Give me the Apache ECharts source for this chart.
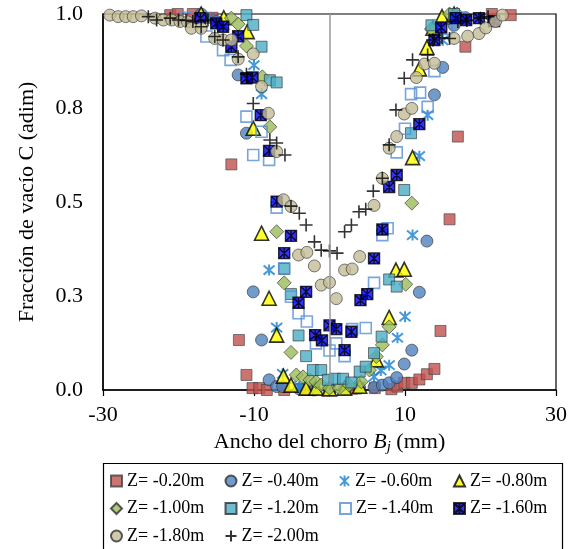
<!DOCTYPE html>
<html><head><meta charset="utf-8">
<script src="https://cdn.jsdelivr.net/npm/echarts@6/dist/echarts.min.js"></script>
<style>html,body{margin:0;padding:0;background:#fff}#c{width:570px;height:549px}</style>
</head><body><div id="c"></div>
<script>
const seriesNames = ['Z= -0.20m','Z= -0.40m','Z= -0.60m','Z= -0.80m','Z= -1.00m','Z= -1.20m','Z= -1.40m','Z= -1.60m','Z= -1.80m','Z= -2.00m'];
const yTickLabels = ['0.0','0.3','0.5','0.8','1.0'];

const z020 = [[-21.1,0.997],[-20.1,1.0],[-18.1,1.0],[-15.5,0.99],[-13.0,0.60],[-12.0,0.133],[-11.0,0.04],[-10.2,0.005],[-9.3,0.005],[-8.3,0.0],[-6.0,0.0],[-3.0,0.0],[0.0,0.0],[3.0,0.003],[6.0,0.005],[8.2,0.002],[9.0,0.009],[9.9,0.019],[10.9,0.019],[11.9,0.028],[12.9,0.042],[13.9,0.056],[14.7,0.157],[15.9,0.454],[17.0,0.674],[18.0,0.913],[21.5,1.0],[24.0,0.997]];
const z040 = [[-17.0,1.0],[-15.0,0.98],[-12.1,0.838],[-11.0,0.683],[-10.1,0.261],[-9.0,0.133],[-8.0,0.027],[-7.0,0.009],[-6.2,0.009],[-4.0,0.003],[-2.0,0.0],[0.0,0.0],[2.0,0.003],[4.0,0.005],[5.9,0.007],[7.0,0.013],[7.9,0.019],[8.9,0.033],[9.9,0.069],[10.9,0.106],[11.9,0.26],[12.9,0.396],[13.9,0.785],[15.0,0.858],[16.5,0.97],[18.0,0.99]];
const z060 = [[-16.0,0.99],[-14.0,0.97],[-10.0,0.864],[-9.0,0.787],[-8.0,0.319],[-7.0,0.166],[-6.2,0.043],[-4.0,0.01],[-2.0,0.005],[0.0,0.003],[2.0,0.005],[4.0,0.01],[5.9,0.035],[6.8,0.052],[7.9,0.066],[9.0,0.139],[10.0,0.195],[11.0,0.412],[11.9,0.622],[13.0,0.731],[15.0,0.93],[17.0,0.99]];
const z080 = [[-17.0,1.0],[-14.0,0.99],[-10.9,0.953],[-10.1,0.696],[-9.0,0.417],[-8.0,0.244],[-7.0,0.146],[-6.1,0.037],[-5.1,0.013],[-3.1,0.005],[-1.8,0.005],[0.0,0.003],[2.0,0.005],[4.0,0.01],[6.2,0.08],[7.9,0.193],[8.8,0.319],[9.9,0.321],[11.0,0.618],[11.9,0.854],[12.9,0.911],[13.7,0.962],[14.9,0.993],[16.5,1.0]];
const z100 = [[-13.0,0.989],[-12.1,0.973],[-11.0,0.915],[-8.9,0.833],[-7.9,0.70],[-7.0,0.421],[-6.0,0.285],[-5.1,0.10],[-4.4,0.04],[-3.5,0.035],[-2.6,0.027],[-1.8,0.022],[-1.1,0.013],[0.0,0.005],[1.3,0.005],[2.6,0.013],[4.2,0.022],[5.3,0.053],[6.2,0.089],[7.0,0.12],[7.9,0.168],[10.1,0.281],[10.9,0.497],[13.5,0.96],[15.9,1.0],[16.9,1.0]];
const z120 = [[-11.0,0.997],[-10.1,0.971],[-9.0,0.913],[-7.9,0.824],[-7.0,0.818],[-6.0,0.322],[-5.1,0.255],[-4.1,0.145],[-3.1,0.09],[-2.2,0.053],[-1.1,0.053],[-0.2,0.027],[0.7,0.03],[1.8,0.03],[2.9,0.02],[4.0,0.049],[4.8,0.062],[5.9,0.098],[6.9,0.142],[7.9,0.294],[8.9,0.275],[9.9,0.532],[10.8,0.683],[13.5,0.97],[16.5,1.0]];
const z140 = [[-19.0,0.99],[-16.3,0.94],[-14.1,0.904],[-13.1,0.878],[-11.0,0.727],[-9.0,0.687],[-10.1,0.625],[-8.0,0.612],[-7.0,0.485],[-6.0,0.324],[-5.1,0.248],[-4.1,0.204],[-3.0,0.182],[-1.8,0.124],[0.0,0.105],[0.9,0.124],[2.0,0.09],[3.0,0.162],[4.8,0.165],[5.9,0.285],[7.0,0.412],[7.7,0.43],[8.9,0.632],[10.0,0.695],[10.8,0.787],[12.0,0.791],[13.0,0.753],[13.9,0.848],[15.5,0.96],[17.5,0.99]];
const z160 = [[-17.1,0.989],[-15.0,0.975],[-14.1,0.966],[-12.1,0.941],[-13.0,0.913],[-11.0,0.829],[-10.2,0.831],[-9.1,0.731],[-8.0,0.636],[-7.0,0.501],[-5.1,0.41],[-6.0,0.364],[-3.1,0.261],[-4.1,0.232],[-1.9,0.146],[-1.0,0.132],[0.0,0.172],[0.9,0.162],[2.9,0.155],[2.0,0.106],[4.1,0.239],[5.0,0.255],[5.9,0.35],[7.0,0.427],[7.9,0.54],[8.9,0.572],[11.9,0.707],[13.9,0.931],[14.8,0.964],[16.7,0.989],[18.1,0.984],[19.8,0.989],[21.8,0.981]];
const z180 = [[-29.1,0.997],[-28.0,0.993],[-27.0,0.993],[-26.0,0.993],[-24.9,0.995],[-23.1,0.989],[-22.0,0.984],[-20.9,0.984],[-19.8,0.98],[-18.8,0.979],[-18.3,0.962],[-17.0,0.962],[-15.2,0.935],[-14.1,0.931],[-13.0,0.931],[-12.1,0.88],[-10.1,0.894],[-9.0,0.807],[-8.1,0.736],[-7.0,0.634],[-6.1,0.506],[-5.1,0.488],[-4.1,0.359],[-3.0,0.366],[-2.0,0.33],[-1.1,0.279],[0.0,0.286],[0.9,0.243],[2.0,0.319],[3.0,0.322],[4.0,0.355],[5.9,0.491],[7.0,0.563],[7.9,0.643],[8.9,0.674],[9.9,0.734],[10.9,0.749],[11.5,0.831],[12.6,0.867],[13.9,0.869],[16.5,0.935],[18.3,0.941],[19.8,0.948],[20.7,0.963],[22.0,0.98],[22.9,0.997]];
const z200 = [[-24.0,0.993],[-22.9,0.984],[-21.1,0.989],[-20.0,0.984],[-19.0,0.983],[-18.1,0.98],[-17.0,0.966],[-16.1,0.984],[-15.2,0.94],[-14.1,0.931],[-12.1,0.886],[-11.0,0.84],[-10.1,0.762],[-7.9,0.665],[-7.0,0.657],[-5.9,0.625],[-5.1,0.489],[-4.0,0.47],[-3.1,0.439],[-2.0,0.394],[-1.1,0.372],[0.0,0.37],[1.0,0.364],[2.0,0.421],[2.9,0.439],[3.9,0.474],[4.8,0.481],[5.8,0.529],[7.0,0.563],[7.9,0.652],[8.8,0.745],[9.9,0.829],[11.0,0.878],[13.0,0.891],[13.7,0.931],[14.9,0.937],[15.9,0.935],[17.0,0.98],[18.2,0.983],[20.0,0.989],[21.0,0.993]];

const seriesData = [z020,z040,z060,z080,z100,z120,z140,z160,z180,z200];

const FONT = "'Liberation Serif','Times New Roman',serif";
const STAR = 'path://M0,0L10,10M10,0L0,10M5,-1L5,11';
const PLUS = 'path://M5,0L5,10M0,5L10,5';
const XSQ = 'path://M0,0L10,0L10,10L0,10Z M0,0L10,10 M10,0L0,10 M5,0L5,10';
const styles = [
  {symbol:'rect', size:11, itemStyle:{color:'#C0504D', borderColor:'#404040', borderWidth:0.8}},
  {symbol:'circle', size:12, itemStyle:{color:'#4F81BD', borderColor:'#303030', borderWidth:0.8}},
  {symbol:STAR, size:11, itemStyle:{color:'rgba(0,0,0,0)', borderColor:'#1780D0', borderWidth:2}},
  {symbol:'triangle', size:14, itemStyle:{color:'#FFFF00', borderColor:'#000', borderWidth:1.6}},
  {symbol:'diamond', size:14, itemStyle:{color:'#9BBB59', borderColor:'#303030', borderWidth:0.8}},
  {symbol:'rect', size:11, itemStyle:{color:'#4BACC6', borderColor:'#303030', borderWidth:0.8}},
  {symbol:'rect', size:11, itemStyle:{color:'rgba(255,255,255,0)', borderColor:'#558ED5', borderWidth:1.6}},
  {symbol:XSQ, size:11, itemStyle:{color:'#0000FF', borderColor:'#000', borderWidth:1.4}},
  {symbol:'circle', size:12, itemStyle:{color:'#C4BD97', borderColor:'#303030', borderWidth:0.8}},
  {symbol:PLUS, size:13, itemStyle:{color:'rgba(0,0,0,0)', borderColor:'#000', borderWidth:1.6}}
];

const series = seriesNames.map((n,i)=>{
  const s = {
    name:n, type:'scatter', data:seriesData[i], symbol:styles[i].symbol, symbolSize:styles[i].size,
    itemStyle:styles[i].itemStyle, emphasis:{disabled:true}, silent:true, animation:false
  };
  if (i===0) {
    s.markLine = {silent:true, symbol:['none','none'], label:{show:false},
      lineStyle:{color:'#999', width:1.5, type:'solid'}, data:[{xAxis:0}], animation:false};
  }
  return s;
});

const colX = [110, 224.5, 339, 453];
const rowY = [471, 498.5, 526];
const legends = seriesNames.map((n,i)=>({
  data:[n], left:colX[i%4], top:rowY[Math.floor(i/4)], padding:0,
  itemWidth:11, itemHeight:11, itemGap:0, selectedMode:false,
  textStyle:{fontFamily:FONT, fontSize:18, color:'#000', lineHeight:20}
}));

const chart = echarts.init(document.getElementById('c'), null, {renderer:'canvas'});
chart.setOption({
  animation:false,
  backgroundColor:'#fff',
  grid:{left:103, right:13, top:14, bottom:159, show:true, borderColor:'#000', borderWidth:1.2, containLabel:false},
  xAxis:{type:'value', min:-30, max:30, interval:20,
    axisLine:{show:true, onZero:false, lineStyle:{color:'#000', width:1.5}},
    axisTick:{show:true, inside:false, length:6, lineStyle:{color:'#000', width:1.2}},
    splitLine:{show:false},
    axisLabel:{fontFamily:FONT, fontSize:22, color:'#000', margin:14},
    name:'Ancho del chorro {i|B}{s|j} (mm)', nameLocation:'middle', nameGap:40,
    nameTextStyle:{fontFamily:FONT, fontSize:22, color:'#000',
      rich:{i:{fontFamily:FONT, fontSize:22, fontStyle:'italic', color:'#000'},
            s:{fontFamily:FONT, fontSize:15, fontStyle:'italic', color:'#000', padding:[10,0,0,0]}}}
  },
  yAxis:{type:'value', min:0, max:1, interval:0.25,
    axisLine:{show:true, onZero:false, lineStyle:{color:'#000', width:1.5}},
    axisTick:{show:false},
    splitLine:{show:false},
    axisLabel:{fontFamily:FONT, fontSize:22, color:'#000', margin:20,
      formatter:(v)=>yTickLabels[Math.round(v/0.25)]},
    name:'Fracción de vacío C (adim)', nameLocation:'middle', nameRotate:90, nameGap:65,
    nameTextStyle:{fontFamily:FONT, fontSize:22, color:'#000'}
  },
  legend:legends,
  graphic:[{type:'rect', left:101, top:461, shape:{width:459, height:86},
    style:{fill:'none', stroke:'#000', lineWidth:1.2}, silent:true}],
  series:series
});
</script></body></html>
